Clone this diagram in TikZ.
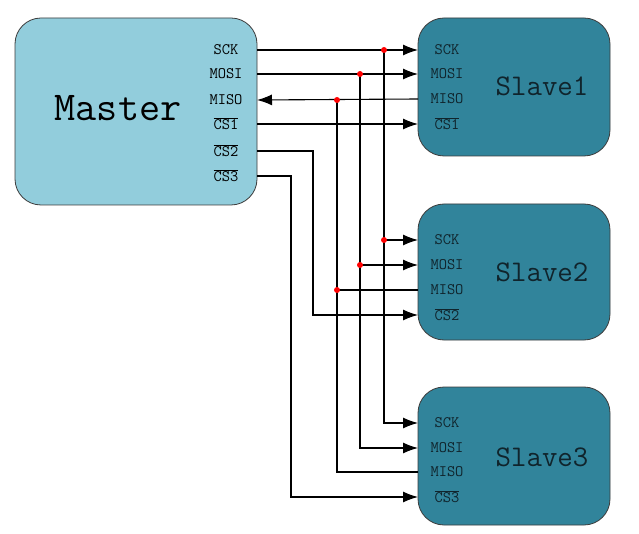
\documentclass[tikz,border=0pt]{standalone}
\usepackage{fontspec}
\usetikzlibrary{arrows.meta}
\definecolor{masterblue}{RGB}{146,205,220}
\definecolor{slaveteal}{RGB}{49,132,155}
\definecolor{edgegray}{RGB}{60,60,60}
\definecolor{darkink}{RGB}{16,36,44}
\newcommand{\csbar}[1]{$\overline{\hbox{CS#1}}$}
\tikzset{
 box/.style={draw=edgegray,line width=0.8pt,rounded corners=26pt,inner sep=0pt},
 pin/.style={font=\ttfamily\fontsize{16}{16}\selectfont,inner sep=0pt},
 big/.style={font=\ttfamily\fontsize{41}{41}\selectfont,inner sep=0pt},
 mid/.style={font=\ttfamily\fontsize{30}{30}\selectfont,inner sep=0pt,text=darkink},
 wire/.style={line width=1.1pt},
 tip/.style={wire,-{Latex[length=15pt,width=11pt]}},
 joint/.style={circle,fill=red,inner sep=0pt,minimum size=6pt},
}
\begin{document}
\begin{tikzpicture}[x=1pt,y=-1pt]
 \useasboundingbox[fill=white] (0,0) rectangle (639,534);
 % boxes
 \node[box,fill=masterblue,minimum width=242pt,minimum height=187pt] (master) at (136,111.5) {};
 \node[box,fill=slaveteal,minimum width=192pt,minimum height=138pt] (slave1) at (514,87) {};
 \node[box,fill=slaveteal,minimum width=192pt,minimum height=136pt] (slave2) at (514,272) {};
 \node[box,fill=slaveteal,minimum width=192pt,minimum height=138pt] (slave3) at (514,456) {};
 \node[big] (master-txt) at (118,108) {Master};
 \node[mid] (slave1-txt) at (542,86) {Slave1};
 \node[mid] (slave2-txt) at (542,272) {Slave2};
 \node[mid] (slave3-txt) at (542,457) {Slave3};
 % pin labels
 \node[pin] (m-sck-txt) at (226,50) {SCK};
 \node[pin] (m-mosi-txt) at (226,74) {MOSI};
 \node[pin] (m-miso-txt) at (226,100) {MISO};
 \node[pin] (m-cs1-txt) at (226,124) {\csbar1};
 \node[pin] (m-cs2-txt) at (226,151) {\csbar2};
 \node[pin] (m-cs3-txt) at (226,176) {\csbar3};
 \foreach \s/\a/\b/\c/\d in {1/50/74/99/124,2/240/265/290/315,3/423/448/472/497}{
  \node[pin,text=darkink] (s\s-sck-txt) at (447,\a) {SCK};
  \node[pin,text=darkink] (s\s-mosi-txt) at (447,\b) {MOSI};
  \node[pin,text=darkink] (s\s-miso-txt) at (447,\c) {MISO};
  \node[pin,text=darkink] (s\s-cs-txt) at (447,\d) {\csbar\s};
  \coordinate (s\s-sck) at (418,\a);
  \coordinate (s\s-mosi) at (418,\b);
  \coordinate (s\s-miso) at (418,\c);
  \coordinate (s\s-cs) at (418,\d);
 }
 % pins on the master edge
 \coordinate (m-sck) at (257,50);
 \coordinate (m-mosi) at (257,74);
 \coordinate (m-miso) at (257,100);
 \coordinate (m-cs1) at (257,124);
 \coordinate (m-cs2) at (257,151);
 \coordinate (m-cs3) at (257,176);
 % bus lines
 \coordinate (bus-sck) at (384,0);
 \coordinate (bus-mosi) at (360,0);
 \coordinate (bus-miso) at (337,0);
 \coordinate (bus-cs2) at (313,0);
 \coordinate (bus-cs3) at (291,0);
 % slave1
 \draw[tip] (m-sck) -- (s1-sck);
 \draw[tip] (m-mosi) -- (s1-mosi);
 \draw[tip] (s1-miso) -- (m-miso);
 \draw[tip] (m-cs1) -- (s1-cs);
 % shared lines
 \draw[tip] (m-sck -| bus-sck) |- (s3-sck);
 \draw[tip] (s2-sck -| bus-sck) -- (s2-sck);
 \draw[tip] (m-mosi -| bus-mosi) |- (s3-mosi);
 \draw[tip] (s2-mosi -| bus-mosi) -- (s2-mosi);
 \draw[wire] (s3-miso) -| (m-miso -| bus-miso);
 \draw[wire] (s2-miso) -- (s2-miso -| bus-miso);
 \draw[tip] (m-cs2) -- (m-cs2 -| bus-cs2) |- (s2-cs);
 \draw[tip] (m-cs3) -- (m-cs3 -| bus-cs3) |- (s3-cs);
 % joints
 \node[joint] (j1) at (m-sck -| bus-sck) {};
 \node[joint] (j2) at (s2-sck -| bus-sck) {};
 \node[joint] (j3) at (m-mosi -| bus-mosi) {};
 \node[joint] (j4) at (s2-mosi -| bus-mosi) {};
 \node[joint] (j5) at (m-miso -| bus-miso) {};
 \node[joint] (j6) at (s2-miso -| bus-miso) {};
\end{tikzpicture}
\end{document}
